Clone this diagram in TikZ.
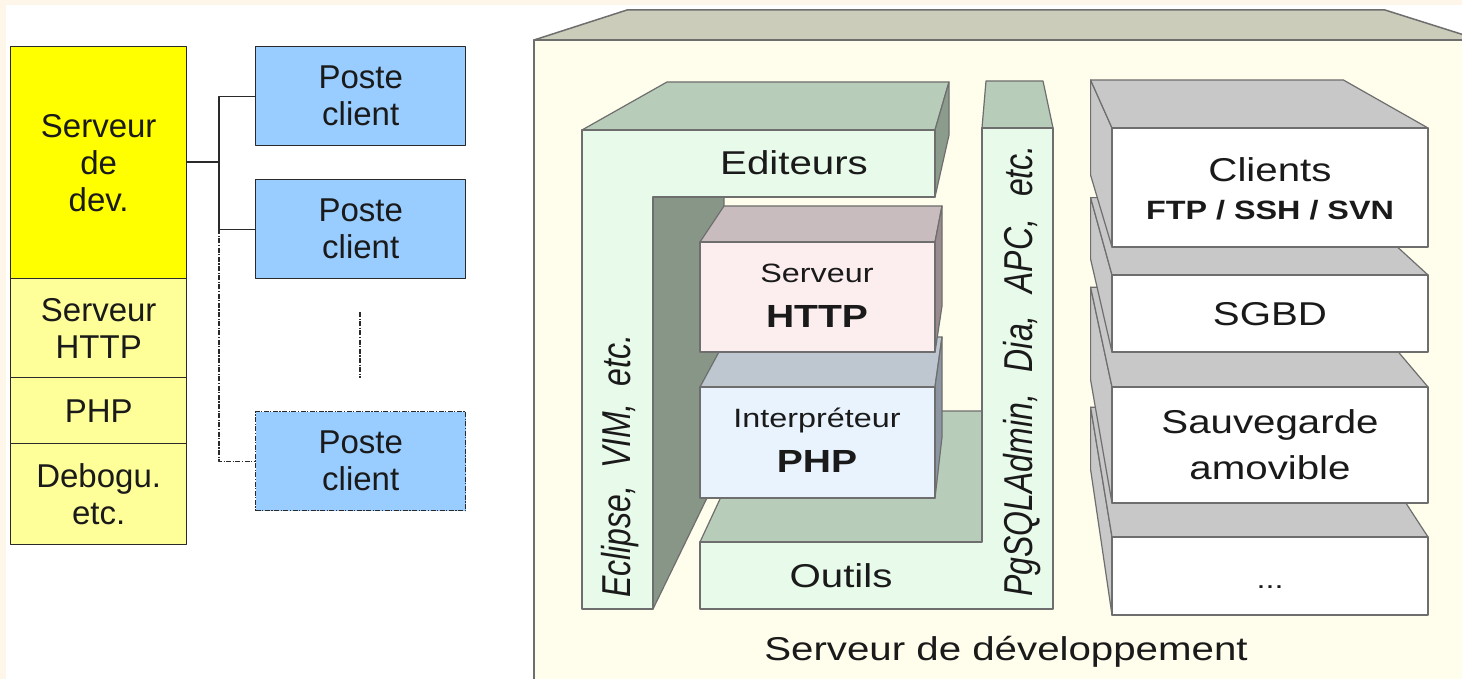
\documentclass[tikz,border=0pt]{standalone}
\usepackage{graphicx}
\usepackage{fontspec}
\setmainfont{Liberation Sans}
\newfontfamily\widesans[FakeStretch=1.22]{Liberation Sans}

\definecolor{pagecream}{HTML}{FEF7E9}
\definecolor{ink}{HTML}{1A1A1A}
\definecolor{frame}{HTML}{2A2A2A}
\definecolor{outl}{HTML}{6E6E6E}
\definecolor{yelA}{HTML}{FFFF00}
\definecolor{yelB}{HTML}{FFFF99}
\definecolor{blu}{HTML}{99CCFF}
\definecolor{bigfront}{HTML}{FFFDEB}
\definecolor{bigtop}{HTML}{CCCCBA}
\definecolor{grfront}{HTML}{E8FAEA}
\definecolor{grtop}{HTML}{B8CCBA}
\definecolor{grside}{HTML}{8C9C8C}
\definecolor{grdark}{HTML}{889688}
\definecolor{httpfront}{HTML}{FCEEEE}
\definecolor{httptop}{HTML}{C8BCBE}
\definecolor{httpside}{HTML}{9A8C8E}
\definecolor{phpfront}{HTML}{E8F3FD}
\definecolor{phptop}{HTML}{BEC6D0}
\definecolor{phpside}{HTML}{8C96A2}
\definecolor{stackgray}{HTML}{C8C8C8}

\begin{document}
\begin{tikzpicture}[x=1pt,y=-1pt,line join=round,
  link/.style={draw=frame,line width=1.3pt},
  dashdot/.style={dash pattern=on 5pt off 1.5pt on 1.2pt off 1.5pt},
  leftbox/.style={draw=frame,line width=1.4pt,inner sep=0pt,anchor=north west,
    align=center,text=ink,font=\fontsize{33}{37}\selectfont},
  face/.style={draw=outl,line width=1.2pt},
  lbl/.style={anchor=base,inner sep=0pt,text=ink,font=\widesans\fontsize{33}{38}\selectfont},
  lblsmall/.style={lbl,font=\widesans\fontsize{26.5}{30}\selectfont},
  lblbold/.style={lbl,font=\widesans\bfseries\fontsize{32}{35}\selectfont},
  lblboldsmall/.style={lbl,font=\widesans\bfseries\fontsize{26.5}{30}\selectfont},
  rot/.style={rotate=90,anchor=base west,inner sep=0pt,text=ink,font=\itshape\fontsize{32}{36}\selectfont}]

\useasboundingbox (0,0) rectangle (1462,679);
\clip (0,0) rectangle (1462,679);

% page
\fill[pagecream] (0,0) rectangle (1462,679);
\fill[white] (6,5) rectangle (1462,679);

% ---------- development server stack (left) ----------
\node[leftbox,fill=yelA,minimum width=176pt,minimum height=232pt] (dev) at (10,46) {Serveur\\de\\dev.};
\node[leftbox,fill=yelB,minimum width=176pt,minimum height=99pt] (srvhttp) at (10,278) {Serveur\\HTTP};
\node[leftbox,fill=yelB,minimum width=176pt,minimum height=66pt] (php) at (10,377) {PHP};
\node[leftbox,fill=yelB,minimum width=176pt,minimum height=101pt] (dbg) at (10,443) {Debogu.\\etc.};

% client workstations
\node[leftbox,fill=blu,minimum width=210pt,minimum height=99pt] (pc1) at (255,46) {Poste\\client};
\node[leftbox,fill=blu,minimum width=210pt,minimum height=99pt] (pc2) at (255,179) {Poste\\client};
\node[leftbox,fill=blu,dashdot,minimum width=210pt,minimum height=99pt] (pc3) at (255,411) {Poste\\client};

% network links
\coordinate (bus) at (219,162);
\draw[link] (dev.east |- bus) -- (bus);
\draw[link] (pc1.west) -| (bus |- pc2.west) -- (pc2.west);
\draw[link,dashdot] (bus |- pc2.west) |- (pc3.west);
\coordinate (more1) at (360,312);
\coordinate (more2) at (360,378);
\draw[link,dashdot] (more1) -- (more2);

% ---------- development server (right) ----------
\draw[face,line width=1.5pt,fill=bigtop] (534,40) -- (627,10) -- (1385,10) -- (1480,40) -- cycle;
\draw[face,line width=1.5pt,fill=bigfront] (534,700) -- (534,40) -- (1480,40) -- (1480,700);

% tools block (Outils + PgSQLAdmin column)
\draw[face,fill=grtop] (982,128) -- (986,81) -- (1043,81) -- (1053,128) -- cycle;
\draw[face,fill=grtop] (700,542) -- (761,411) -- (982,411) -- (982,542) -- cycle;
\draw[face,fill=grfront] (700,542) -- (982,542) -- (982,128) -- (1053,128)
  -- (1053,609) -- (700,609) -- cycle;

% editors block (Editeurs + Eclipse column)
\draw[face,fill=grtop] (582,130) -- (667,82) -- (949,82) -- (935,130) -- cycle;
\draw[face,fill=grside] (935,130) -- (949,82) -- (949,135) -- (935,197) -- cycle;
\draw[face,fill=grdark] (653,197) -- (724,197) -- (723,465) -- (653,609) -- cycle;
\draw[face,fill=grfront] (582,130) -- (935,130) -- (935,197) -- (653,197)
  -- (653,609) -- (582,609) -- cycle;

% PHP interpreter
\draw[face,fill=phptop] (700,387) -- (727,337) -- (942,337) -- (935,387) -- cycle;
\draw[face,fill=phpside] (935,387) -- (942,337) -- (942,437) -- (935,498) -- cycle;
\draw[face,fill=phpfront] (700,387) rectangle (935,498);

% HTTP server
\draw[face,fill=httptop] (700,242) -- (724,206) -- (942,206) -- (935,242) -- cycle;
\draw[face,fill=httpside] (935,242) -- (942,206) -- (942,306) -- (935,352) -- cycle;
\draw[face,fill=httpfront] (700,242) rectangle (935,352);

% service stack, drawn from the bottom layer up
\foreach \t/\b in {537/615,387/503,275/352,128/247}{
  \draw[face,fill=stackgray] (1112,\t) -- (1090.6,0.8*\t-22.4) -- (1090.6,0.8*\b-22.4) -- (1112,\b) -- cycle;
  \draw[face,fill=stackgray] (1112,\t) -- (1090.6,0.8*\t-22.4) -- (1343.4,0.8*\t-22.4) -- (1428,\t) -- cycle;
  \draw[face,fill=white] (1112,\t) rectangle (1428,\b);
}

% labels
\node[lbl] (editeurs) at (794,175) {Editeurs};
\node[lbl] (outils) at (841,587) {Outils};
\node[lblsmall] (httpa) at (817,282) {Serveur};
\node[lblbold] (httpb) at (817,327) {HTTP};
\node[lblsmall] (phpa) at (817,427) {Interpréteur};
\node[lblbold] (phpb) at (817,472) {PHP};
\node[lbl] (clients) at (1270,182) {Clients};
\node[lblboldsmall] (protocols) at (1270,220) {FTP / SSH / SVN};
\node[lbl] (sgbd) at (1270,325) {SGBD};
\node[lbl] (sauva) at (1270,433) {Sauvegarde};
\node[lbl] (sauvb) at (1270,479) {amovible};
\node[lblsmall] (others) at (1270,588) {...};
\node[lbl] (title) at (1006,660) {Serveur de développement};
\node[rot] (eclipse) at (630,598) {\scalebox{1}[1.26]{Eclipse,\hspace{8pt} VIM,\hspace{8pt} etc.}};
\node[rot] (pgsql) at (1032,597) {\scalebox{1}[1.26]{PgSQLAdmin,\hspace{13pt} Dia,\hspace{13pt} APC,\hspace{13pt} etc.}};
\end{tikzpicture}
\end{document}
